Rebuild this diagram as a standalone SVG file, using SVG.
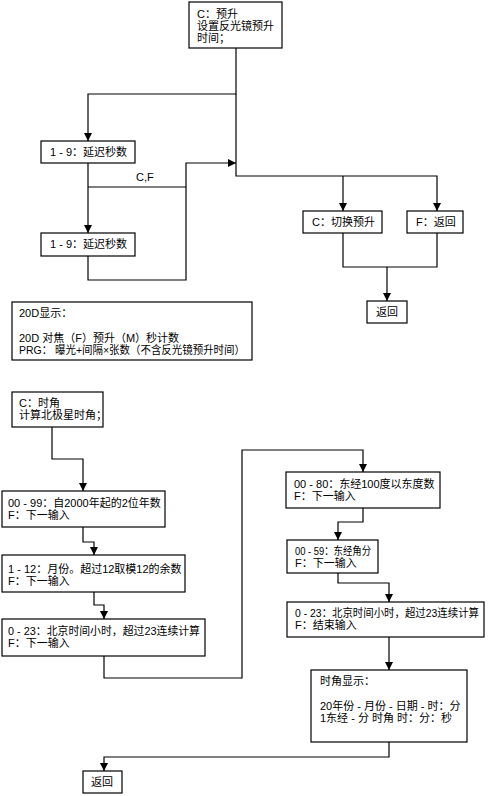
<svg xmlns="http://www.w3.org/2000/svg" width="492" height="796" viewBox="0 0 492 796">
<style>
rect.b{fill:#fff;stroke:#000;stroke-width:1.2}
text{font-family:"Liberation Sans","Noto Sans CJK SC",sans-serif;font-size:11px;fill:#000}
.c path{fill:none;stroke:#000;stroke-width:1.2}
</style>
<defs>
<marker id="ah" markerUnits="userSpaceOnUse" markerWidth="10" markerHeight="10" viewBox="0 0 10 10" refX="9" refY="5" orient="auto">
<path d="M1,1 L9,5 L1,9 Z" fill="#000"/>
</marker>
</defs>
<rect width="492" height="796" fill="#fff"/>
<g class="c" id="connectors">
<path d="M236,48 V94 H88 V141" marker-end="url(#ah)"/>
<path d="M236,94 V176 H437 V211" marker-end="url(#ah)"/>
<path d="M343,176 V211" marker-end="url(#ah)"/>
<path d="M88,163 V233" marker-end="url(#ah)"/>
<path d="M88,187 H186"/>
<path d="M88,256 V280 H186 V163 H236" marker-end="url(#ah)"/>
<path d="M343,233 V267 H437 V233"/>
<path d="M387,267 V301" marker-end="url(#ah)"/>
<path d="M52,427 V459 H83 V491" marker-end="url(#ah)"/>
<path d="M83,527 V542 H94 V555" marker-end="url(#ah)"/>
<path d="M94,592 V605 H104 V619" marker-end="url(#ah)"/>
<path d="M104,656 V678 H242 V450 H363 V472" marker-end="url(#ah)"/>
<path d="M363,508 V522 H338 V540" marker-end="url(#ah)"/>
<path d="M338,573 V583 H389 V602" marker-end="url(#ah)"/>
<path d="M389,637 V670" marker-end="url(#ah)"/>
<path d="M389,742 V757 H104 V771" marker-end="url(#ah)"/>
<text x="136" y="181">C,F</text>
</g>
<g id="n-preset"><rect class="b" x="189" y="2" width="93" height="46"/>
<text x="197" y="18">C：预升</text><text x="197" y="30">设置反光镜预升</text><text x="197" y="42">时间；</text></g>
<g id="n-delay1"><rect class="b" x="41" y="141" width="94" height="22"/><text x="50" y="156">1 - 9：延迟秒数</text></g>
<g id="n-delay2"><rect class="b" x="41" y="233" width="94" height="23"/><text x="50" y="248">1 - 9：延迟秒数</text></g>
<g id="n-switch"><rect class="b" x="303" y="211" width="79" height="22"/><text x="312" y="226">C：切换预升</text></g>
<g id="n-freturn"><rect class="b" x="407" y="211" width="56" height="22"/><text x="416" y="226">F：返回</text></g>
<g id="n-return1"><rect class="b" x="367" y="301" width="40" height="22"/><text x="376" y="316">返回</text></g>
<g id="n-20d"><rect class="b" x="12" y="302" width="240" height="58"/>
<text x="19" y="317">20D显示：</text><text x="19" y="342">20D 对焦（F）预升（M）秒计数</text><text x="19" y="354" textLength="226" lengthAdjust="spacingAndGlyphs">PRG：  曝光+间隔×张数（不含反光镜预升时间）</text></g>
<g id="n-hourangle"><rect class="b" x="12" y="392" width="91" height="35"/>
<text x="19" y="407">C：时角</text><text x="19" y="419">计算北极星时角；</text></g>
<g id="n-year"><rect class="b" x="2" y="491" width="163" height="36"/>
<text x="8" y="507">00 - 99：自2000年起的2位年数</text><text x="8" y="519">F：下一输入</text></g>
<g id="n-month"><rect class="b" x="2" y="555" width="183" height="37"/>
<text x="8" y="573">1 - 12：月份。超过12取模12的余数</text><text x="8" y="585">F：下一输入</text></g>
<g id="n-hour1"><rect class="b" x="2" y="619" width="203" height="37"/>
<text x="8" y="635" textLength="192" lengthAdjust="spacingAndGlyphs">0 - 23：北京时间小时，超过23连续计算</text><text x="8" y="647">F：下一输入</text></g>
<g id="n-lon"><rect class="b" x="286" y="472" width="154" height="36"/>
<text x="294" y="488">00 - 80：东经100度以东度数</text><text x="294" y="500">F：下一输入</text></g>
<g id="n-lonmin"><rect class="b" x="287" y="540" width="91" height="33"/>
<text x="295" y="555" textLength="76" lengthAdjust="spacingAndGlyphs">00 - 59：东经角分</text><text x="295" y="567">F：下一输入</text></g>
<g id="n-hour2"><rect class="b" x="287" y="602" width="197" height="35"/>
<text x="295" y="617" textLength="184" lengthAdjust="spacingAndGlyphs">0 - 23：北京时间小时，超过23连续计算</text><text x="295" y="629">F：结束输入</text></g>
<g id="n-display"><rect class="b" x="311" y="670" width="156" height="72"/>
<text x="320" y="685">时角显示：</text><text x="320" y="710">20年份 - 月份 - 日期 - 时：分</text><text x="320" y="722">1东经 - 分 时角 时：分：秒</text></g>
<g id="n-return2"><rect class="b" x="83" y="771" width="39" height="22"/><text x="91" y="786">返回</text></g>
</svg>
